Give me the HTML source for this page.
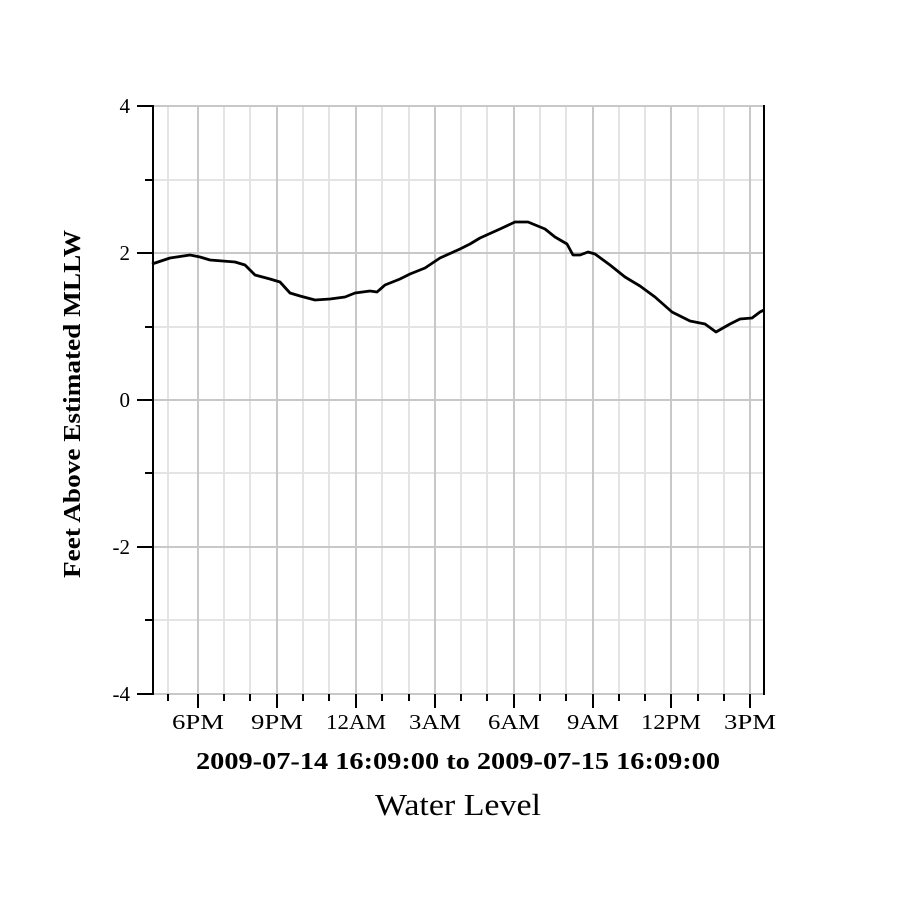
<!DOCTYPE html>
<html><head><style>body{margin:0;background:#fff}</style></head><body>
<svg width="900" height="900" xmlns="http://www.w3.org/2000/svg" font-family="Liberation Serif, serif">
<rect width="900" height="900" fill="#fff"/>
<g stroke="#e4e4e4" stroke-width="2">
<line x1="152" y1="180" x2="764" y2="180"/><line x1="152" y1="327" x2="764" y2="327"/>
<line x1="152" y1="473" x2="764" y2="473"/><line x1="152" y1="620" x2="764" y2="620"/>
<line x1="168" y1="106" x2="168" y2="694"/><line x1="224" y1="106" x2="224" y2="694"/><line x1="250" y1="106" x2="250" y2="694"/>
<line x1="303" y1="106" x2="303" y2="694"/><line x1="329" y1="106" x2="329" y2="694"/>
<line x1="382" y1="106" x2="382" y2="694"/><line x1="409" y1="106" x2="409" y2="694"/>
<line x1="461" y1="106" x2="461" y2="694"/><line x1="487" y1="106" x2="487" y2="694"/>
<line x1="540" y1="106" x2="540" y2="694"/><line x1="566" y1="106" x2="566" y2="694"/>
<line x1="619" y1="106" x2="619" y2="694"/><line x1="645" y1="106" x2="645" y2="694"/>
<line x1="698" y1="106" x2="698" y2="694"/><line x1="724" y1="106" x2="724" y2="694"/>
</g>
<g stroke="#c8c8c8" stroke-width="2">
<line x1="198" y1="106" x2="198" y2="694"/><line x1="277" y1="106" x2="277" y2="694"/>
<line x1="356" y1="106" x2="356" y2="694"/><line x1="435" y1="106" x2="435" y2="694"/>
<line x1="514" y1="106" x2="514" y2="694"/><line x1="593" y1="106" x2="593" y2="694"/>
<line x1="671" y1="106" x2="671" y2="694"/><line x1="750" y1="106" x2="750" y2="694"/>
<line x1="152" y1="106" x2="764" y2="106"/><line x1="152" y1="253" x2="764" y2="253"/>
<line x1="152" y1="400" x2="764" y2="400"/><line x1="152" y1="547" x2="764" y2="547"/>
<line x1="152" y1="694" x2="764" y2="694"/>
</g>
<g stroke="#000" stroke-width="2">
<line x1="153" y1="105" x2="153" y2="695"/><line x1="764" y1="105" x2="764" y2="695"/>
<line x1="137" y1="106" x2="153" y2="106"/><line x1="137" y1="253" x2="153" y2="253"/><line x1="137" y1="400" x2="153" y2="400"/><line x1="137" y1="547" x2="153" y2="547"/><line x1="137" y1="694" x2="153" y2="694"/>
<line x1="145" y1="180" x2="153" y2="180"/><line x1="145" y1="327" x2="153" y2="327"/><line x1="145" y1="473" x2="153" y2="473"/><line x1="145" y1="620" x2="153" y2="620"/>
<line x1="198" y1="694" x2="198" y2="708"/><line x1="277" y1="694" x2="277" y2="708"/><line x1="356" y1="694" x2="356" y2="708"/><line x1="435" y1="694" x2="435" y2="708"/><line x1="514" y1="694" x2="514" y2="708"/><line x1="593" y1="694" x2="593" y2="708"/><line x1="671" y1="694" x2="671" y2="708"/><line x1="750" y1="694" x2="750" y2="708"/>
<line x1="168" y1="694" x2="168" y2="701"/><line x1="224" y1="694" x2="224" y2="701"/><line x1="250" y1="694" x2="250" y2="701"/><line x1="303" y1="694" x2="303" y2="701"/><line x1="329" y1="694" x2="329" y2="701"/><line x1="382" y1="694" x2="382" y2="701"/><line x1="409" y1="694" x2="409" y2="701"/><line x1="461" y1="694" x2="461" y2="701"/><line x1="487" y1="694" x2="487" y2="701"/><line x1="540" y1="694" x2="540" y2="701"/><line x1="566" y1="694" x2="566" y2="701"/><line x1="619" y1="694" x2="619" y2="701"/><line x1="645" y1="694" x2="645" y2="701"/><line x1="698" y1="694" x2="698" y2="701"/><line x1="724" y1="694" x2="724" y2="701"/>
</g>
<polyline fill="none" stroke="#000" stroke-width="2.8" stroke-linejoin="round" points="152,264 170,258 190,255 200,257 210,260 235,262 245,265 255,275 270,279 280,282 290,293 300,296 315,300 330,299 345,297 355,293 370,291 377,292 385,285 400,279 410,274 425,268 440,258 460,249 470,244 480,238 500,229 515,222 528,222 545,229 555,237 567,244 573,255 580,255 588,252 595,254 610,265 625,277 640,286 655,297 672,312 690,321 705,324 716,332 730,324 740,319 752,318 760,312 764,310"/>
<g font-size="21" text-anchor="end" fill="#000">
<text x="130" y="113">4</text><text x="130" y="260">2</text><text x="130" y="407">0</text><text x="130" y="554">-2</text><text x="130" y="701">-4</text>
</g>
<g font-size="21" text-anchor="middle" fill="#000">
<text x="198" y="729" textLength="52" lengthAdjust="spacingAndGlyphs">6PM</text><text x="277" y="729" textLength="52" lengthAdjust="spacingAndGlyphs">9PM</text><text x="356" y="729" textLength="60" lengthAdjust="spacingAndGlyphs">12AM</text><text x="435" y="729" textLength="52" lengthAdjust="spacingAndGlyphs">3AM</text><text x="514" y="729" textLength="52" lengthAdjust="spacingAndGlyphs">6AM</text><text x="593" y="729" textLength="52" lengthAdjust="spacingAndGlyphs">9AM</text><text x="671" y="729" textLength="60" lengthAdjust="spacingAndGlyphs">12PM</text><text x="750" y="729" textLength="52" lengthAdjust="spacingAndGlyphs">3PM</text>
</g>
<text x="458" y="769" font-size="24" font-weight="bold" text-anchor="middle" textLength="524" lengthAdjust="spacingAndGlyphs">2009-07-14 16:09:00 to 2009-07-15 16:09:00</text>
<text x="458" y="815" font-size="31" text-anchor="middle" textLength="166" lengthAdjust="spacingAndGlyphs">Water Level</text>
<text transform="translate(80,404) rotate(-90)" font-size="24" font-weight="bold" text-anchor="middle" textLength="348" lengthAdjust="spacingAndGlyphs">Feet Above Estimated MLLW</text>
</svg>
</body></html>
